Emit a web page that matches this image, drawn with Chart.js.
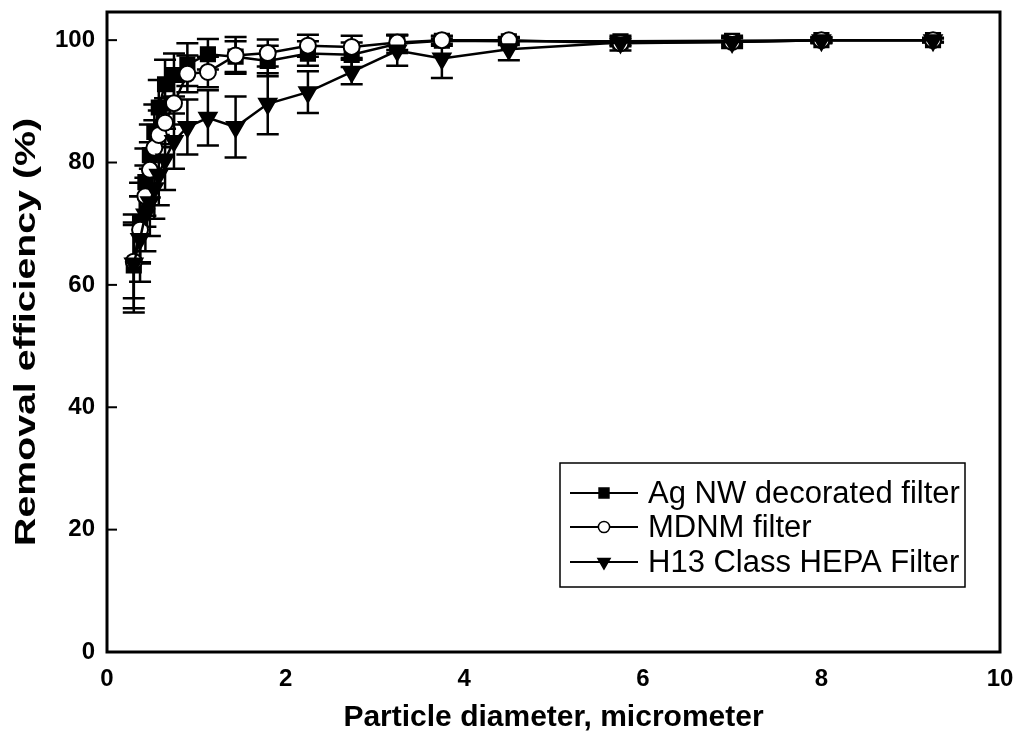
<!DOCTYPE html>
<html>
<head>
<meta charset="utf-8">
<script src="https://cdn.jsdelivr.net/npm/chart.js@4/dist/chart.umd.min.js"></script>
<style>
  html, body { margin: 0; padding: 0; background: #fff; }
  #wrap { width: 1019px; height: 738px; position: relative; }
</style>
</head>
<body>
<div id="wrap"><canvas id="chart"></canvas></div>
<script>
'use strict';

// particle size channels (micrometer)
const diameters = [0.3, 0.37, 0.43, 0.48, 0.53, 0.58, 0.65, 0.75, 0.9, 1.13, 1.44, 1.8, 2.25, 2.74, 3.25, 3.75, 4.5, 5.75, 7.0, 8.0, 9.25];

const agnwEff = [63.2, 70.2, 76.8, 81.2, 85.0, 89.0, 92.8, 94.3, 96.0, 97.7, 97.3, 96.6, 97.8, 97.6, 99.4, 99.9, 99.8, 99.8, 99.9, 100, 100];
const agnwErr = [7.0, 6.5, 5.5, 5.0, 4.5, 4.5, 4.0, 3.5, 3.5, 2.5, 2.5, 2.5, 2.0, 2.0, 1.5, 0.8, 0.6, 0.6, 0.5, 0.4, 0.3];

const mdnmEff = [63.8, 69.0, 74.5, 78.8, 82.4, 84.5, 86.5, 89.7, 94.5, 94.8, 97.5, 97.9, 99.1, 98.9, 99.6, 100, 100, 99.5, 99.7, 100, 100];
const mdnmErr = [6.0, 5.5, 5.0, 4.5, 4.5, 4.0, 4.0, 3.5, 3.0, 2.5, 3.0, 2.2, 1.8, 1.8, 1.2, 0.6, 0.5, 1.2, 1.0, 0.5, 0.4];

const hepaEff = [63.5, 67.5, 71.5, 73.5, 75.8, 78.0, 80.5, 83.5, 85.8, 87.3, 85.8, 89.6, 91.5, 94.8, 98.3, 97.0, 98.5, 99.6, 99.7, 100, 100];
const hepaErr = [8.0, 7.0, 6.0, 5.5, 5.0, 5.0, 5.0, 4.5, 4.5, 4.5, 5.0, 5.0, 3.4, 2.0, 2.5, 3.2, 1.8, 0.6, 0.6, 0.4, 0.3];

const seriesLabels = ['Ag NW decorated filter', 'MDNM filter', 'H13 Class HEPA Filter'];
const xTicks = [0, 2, 4, 6, 8, 10];
const yTicks = [0, 20, 40, 60, 80, 100];
const yTitle = 'Removal efficiency (%)';

const FONT = '"Liberation Sans", Arial, sans-serif';

function toPoints(ys) {
  return diameters.map((x, i) => ({ x: x, y: ys[i] }));
}

const markers = [
  { pointStyle: 'rect', radius: 10, rotation: 0, bg: '#000' },
  { pointStyle: 'circle', radius: 8, rotation: 0, bg: '#fff' },
  { pointStyle: 'triangle', radius: 10, rotation: 180, bg: '#000' },
];
const errs = [agnwErr, mdnmErr, hepaErr];

function makeDataset(i, ys, order) {
  const m = markers[i];
  return {
    label: seriesLabels[i],
    data: toPoints(ys),
    showLine: true,
    borderColor: '#000',
    borderWidth: 2.5,
    pointStyle: m.pointStyle,
    pointRadius: m.radius,
    pointRotation: m.rotation,
    pointBackgroundColor: m.bg,
    pointBorderColor: '#000',
    pointBorderWidth: 2,
    order: order,
  };
}

// vertical error bars with caps
const errorBars = {
  id: 'errorBars',
  beforeDatasetsDraw(chart) {
    const ctx = chart.ctx;
    const xs = chart.scales.x, ys = chart.scales.y;
    ctx.save();
    ctx.strokeStyle = '#000';
    ctx.lineWidth = 2.5;
    chart.data.datasets.forEach((ds, i) => {
      ds.data.forEach((p, j) => {
        const e = errs[i][j];
        const px = xs.getPixelForValue(p.x);
        const top = ys.getPixelForValue(p.y + e);
        const bot = ys.getPixelForValue(p.y - e);
        ctx.beginPath();
        ctx.moveTo(px, top); ctx.lineTo(px, bot);
        ctx.moveTo(px - 11, top); ctx.lineTo(px + 11, top);
        ctx.moveTo(px - 11, bot); ctx.lineTo(px + 11, bot);
        ctx.stroke();
      });
    });
    ctx.restore();
  }
};

// frame, inward ticks, y title and boxed legend
const frame = {
  id: 'frame',
  afterDraw(chart) {
    const ctx = chart.ctx;
    const a = chart.chartArea;
    const ys = chart.scales.y;
    ctx.save();
    ctx.strokeStyle = '#000';
    ctx.fillStyle = '#000';
    ctx.lineWidth = 2;
    yTicks.forEach(v => {
      const py = ys.getPixelForValue(v);
      ctx.beginPath(); ctx.moveTo(a.left, py); ctx.lineTo(a.left + 10, py); ctx.stroke();
    });
    ctx.lineWidth = 3;
    ctx.strokeRect(a.left, a.top, a.right - a.left, a.bottom - a.top);

    // y title: tall, narrow lettering as in the source figure
    ctx.save();
    ctx.font = 'bold 30px ' + FONT;
    const tw = ctx.measureText(yTitle).width;
    ctx.translate(27, (a.top + a.bottom) / 2);
    ctx.rotate(-Math.PI / 2);
    ctx.scale(428 / tw, 1);
    ctx.textAlign = 'center';
    ctx.textBaseline = 'middle';
    ctx.fillText(yTitle, 0, 0);
    ctx.restore();

    // legend
    const lx = 560, ly = 463, lw = 405, lh = 124;
    ctx.lineWidth = 1.5;
    ctx.strokeRect(lx, ly, lw, lh);
    const rows = [493, 527, 562];
    ctx.font = '31px ' + FONT;
    ctx.textBaseline = 'middle';
    seriesLabels.forEach((t, i) => {
      const y = rows[i];
      ctx.lineWidth = 2;
      ctx.beginPath(); ctx.moveTo(570, y); ctx.lineTo(638, y); ctx.stroke();
      const m = markers[i];
      ctx.fillStyle = m.bg;
      ctx.lineWidth = 1.5;
      Chart.helpers.drawPoint(ctx, {
        pointStyle: m.pointStyle, radius: m.radius * 0.7, rotation: m.rotation, borderWidth: 1.5
      }, 604, y);
      ctx.fillStyle = '#000';
      ctx.fillText(t, 648, y + 1);
    });
    ctx.restore();
  }
};

const ctx = document.getElementById('chart').getContext('2d');
new Chart(ctx, {
  type: 'scatter',
  data: {
    datasets: [
      makeDataset(0, agnwEff, 2),
      makeDataset(1, mdnmEff, 1),
      makeDataset(2, hepaEff, 0),
    ],
  },
  options: {
    responsive: true,
    maintainAspectRatio: false,
    animation: false,
    layout: { padding: { top: 10, right: 19, left: 0, bottom: 0 } },
    plugins: { legend: { display: false }, tooltip: { enabled: false } },
    scales: {
      x: {
        type: 'linear',
        min: 0, max: 10,
        afterBuildTicks: s => { s.ticks = xTicks.map(v => ({ value: v })); },
        afterFit: s => { s.height = 86; s.paddingLeft = 0; s.paddingRight = 0; },
        grid: { display: false, drawTicks: false },
        border: { display: false },
        ticks: { color: '#000', padding: 13, maxRotation: 0, font: { family: FONT, size: 24, weight: 'bold' } },
        title: {
          display: true, text: 'Particle diameter, micrometer', color: '#000',
          padding: { top: 0, bottom: 2 },
          font: { family: FONT, size: 30, weight: 'bold' }
        },
      },
      y: {
        min: 0, max: 104.6,
        afterBuildTicks: s => { s.ticks = yTicks.map(v => ({ value: v })); },
        afterFit: s => { s.width = 107; s.paddingTop = 0; s.paddingBottom = 0; },
        grid: { display: false, drawTicks: false },
        border: { display: false },
        ticks: { color: '#000', padding: 12, font: { family: FONT, size: 24, weight: 'bold' } },
      },
    },
  },
  plugins: [errorBars, frame],
});
</script>
</body>
</html>
